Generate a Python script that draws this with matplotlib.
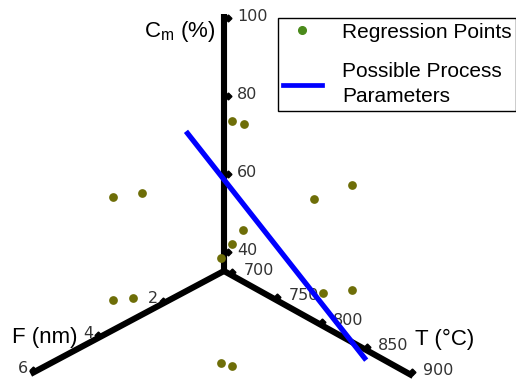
import matplotlib
matplotlib.use("Agg")
import matplotlib.pyplot as plt
from matplotlib.lines import Line2D
import numpy as np

plt.rcParams['mathtext.fontset'] = 'custom'
plt.rcParams['mathtext.rm'] = 'Liberation Sans'

# regression points (F in nm, T in degC, Cm in %)
reg_F = [2.82, 2.45, 2.48, 2.82, 3.16, 3.16, 2.82, 3.71, 2.82, 3.71, 3.09, 3.06, 1.89, 2.79, 1.89]
reg_T = [800, 800, 800, 800, 800, 800, 800, 700, 700, 700, 700, 900, 900, 900, 900]
reg_C = [99.2, 96.8, 69.8, 67.7, 65.6, 38.7, 36.4, 70.9, 67.9, 44.5, 42.3, 93.2, 91.5, 67.8, 64.6]

# possible process parameters (end points of the line)
pp_F = [1.27, 0.1]
pp_T = [693, 851]
pp_C = [76.0, 32.4]

# axis ticks
F_ticks = [2, 4, 6]
T_ticks = [700, 750, 800, 850, 900]
C_ticks = [40, 60, 80, 100]

# pseudo 3d projection onto the page (pixels)
ORIGIN = (224, 271)
F0, T0, C0 = 0.1, 693, 35
VF = (-32.5, 17.3)
VT = (0.9, 0.5)
VC = 3.9


def proj(F, T, C):
    F = np.asarray(F, float)
    T = np.asarray(T, float)
    C = np.asarray(C, float)
    x = ORIGIN[0] + (F - F0) * VF[0] + (T - T0) * VT[0]
    y = ORIGIN[1] + (F - F0) * VF[1] + (T - T0) * VT[1] - (C - C0) * VC
    return x, y


fig = plt.figure(figsize=(5.16, 3.84), dpi=100)
ax = fig.add_axes([0, 0, 1, 1])
ax.set_xlim(0, 516)
ax.set_ylim(384, 0)
ax.axis('off')

lw_axis = 4.4
# the three axes
x, y = proj([F0, 6.05], [T0, T0], [C0, C0])
ax.plot(x, y, color='black', lw=lw_axis, solid_capstyle='butt', zorder=2)
x, y = proj([F0, F0], [T0, 903], [C0, C0])
ax.plot(x, y, color='black', lw=lw_axis, solid_capstyle='butt', zorder=2)
x, y = proj([F0, F0], [T0, T0], [C0, 100.8])
ax.plot(x, y, color='black', lw=lw_axis, solid_capstyle='butt', zorder=2)

tick_kw = dict(fontsize=11.5, color='#333333', family='DejaVu Sans', va='center')
mk_kw = dict(marker='D', ms=3.5, color='black', ls='none', zorder=2)

# Cm ticks
tx, ty = proj([F0] * len(C_ticks), [T0] * len(C_ticks), C_ticks)
ax.plot(tx + 4, ty, **mk_kw)
for xx, yy, v in zip(tx, ty, C_ticks):
    ax.text(xx + 13, yy - 1, str(v), ha='left', **tick_kw)

# T ticks
tx, ty = proj([F0] * len(T_ticks), T_ticks, [C0] * len(T_ticks))
ax.plot(tx + 2, ty - 3, **mk_kw)
for xx, yy, v in zip(tx, ty, T_ticks):
    ax.text(xx + 13, yy - 4, str(v), ha='left', **tick_kw)

# F ticks
tx, ty = proj(F_ticks, [T0] * len(F_ticks), [C0] * len(F_ticks))
ax.plot(tx + 1, ty - 3, **mk_kw)
for xx, yy, v in zip(tx, ty, F_ticks):
    ax.text(xx - 4, yy - 5, str(v), ha='right', **tick_kw)

# axis titles
lab_kw = dict(fontsize=16, family='Liberation Sans', color='black', va='center')
ax.text(215, 31, 'C$_{\\rm m}$ (%)', ha='right', **lab_kw)
ax.text(12, 338, 'F (nm)', ha='left', **lab_kw)
ax.text(415, 339, 'T (°C)', ha='left', **lab_kw)

# possible process parameters
x, y = proj(pp_F, pp_T, pp_C)
ax.plot(x, y, color='#0000ff', lw=3.8, solid_capstyle='butt', zorder=3)

# regression points
x, y = proj(reg_F, reg_T, reg_C)
ax.plot(x, y, 'o', color='#6e6e08', ms=6.3, mec='none', zorder=4)

handles = [Line2D([], [], marker='o', ls='none', color='#4a8a1a', ms=5.5),
           Line2D([], [], color='#0000ff', lw=3.4)]
labels = ['Regression Points', 'Possible Process\nParameters']
leg = ax.legend(handles, labels, loc='upper left',
                bbox_to_anchor=(278 / 516, 1 - 18 / 384),
                bbox_transform=fig.transFigure, borderaxespad=0,
                prop={'family': 'Liberation Sans', 'size': 15},
                fancybox=False, edgecolor='black', framealpha=1,
                handlelength=1.9, handletextpad=0.95, borderpad=0.22,
                labelspacing=1.0)
leg.get_frame().set_linewidth(1.0)
leg.get_texts()[1].set_linespacing(1.4)

fig.savefig('out.png', dpi=100)
